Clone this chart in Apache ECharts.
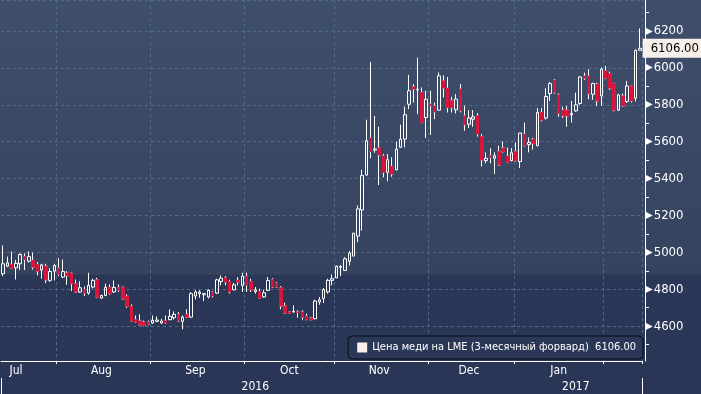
<!DOCTYPE html>
<html><head><meta charset="utf-8">
<script src="https://cdn.jsdelivr.net/npm/echarts@6/dist/echarts.min.js"></script>
<style>
html,body{margin:0;padding:0;background:#2a3656;}
#c{width:701px;height:394px;background:linear-gradient(to bottom,#3f4e6b 0px,#35435f 274px,#2b3757 275px,#2a3656 394px);}
</style></head><body><div id="c"></div>
<script>
// ---- data ----
const SERIES_NAME = 'Цена меди на LME (3-месячный форвард)';
const tradingMonths = [
  [2016, 7, [13,14,15,18,19,20,21,22,25,26,27,28,29]],
  [2016, 8, [1,2,3,4,5,8,9,10,11,12,15,16,17,18,19,22,23,24,25,26,30,31]],
  [2016, 9, [1,2,5,6,7,8,9,12,13,14,15,16,19,20,21,22,23,26,27,28,29,30]],
  [2016,10, [3,4,5,6,7,10,11,12,13,14,17,18,19,20,21,24,25,26,27,28,31]],
  [2016,11, [1,2,3,4,7,8,9,10,11,14,15,16,17,18,21,22,23,24,25,28,29,30]],
  [2016,12, [1,2,5,6,7,8,9,12,13,14,15,16,19,20,21,22,23,28,29,30]],
  [2017, 1, [3,4,5,6,9,10,11,12,13,16,17,18,19,20,23,24,25,26,27,30,31]],
  [2017, 2, [1,2,3,6,7,8,9,10,13]]
];
const opens = [4884,4925,4934,4916,4938,4977,4952,4956,4934,4905,4925,4848,4898,4914,4866,4887,4887,4830,4785,4799,4779,4812,4851,4752,4766,4810,4785,4810,4810,4761,4707,4635,4628,4622,4622,4617,4626,4617,4628,4635,4646,4664,
4626,4664,4649,4763,4776,4770,4758,4785,4779,4842,4862,4842,4797,4848,4821,4871,4842,4788,4788,4758,4794,4853,4833,4808,4709,4677,4677,4677,4677,4655,4644,4640,4731,4749,4785,4848,4862,4919,4902,4952,4980,5088,5230,5419,5620,5555,5566,5522,5434,5466,5447,5569,5614,5803,5897,5881,5867,5731,5803,5794,5771,5930,5890,5822,5773,5885,5740,5695,5722,5740,5627,5497,5524,5510,5546,5565,5522,5497,5546,5492,5641,5585,5611,5578,5758,5728,5861,5933,5854,5771,5771,5746,5767,5807,5956,5956,5857,5911,5848,5983,5969,5915,5771,5848,5818,5902,5836,6095];
const closes = [4938,4943,4914,4941,4988,4961,4977,4920,4898,4932,4851,4896,4929,4880,4896,4873,4830,4785,4808,4779,4821,4848,4757,4766,4810,4776,4810,4794,4748,4707,4628,4622,4608,4604,4610,4631,4633,4628,4617,4653,4664,4628,
4649,4649,4776,4785,4785,4776,4794,4763,4851,4860,4839,4785,4824,4839,4871,4821,4797,4797,4752,4781,4848,4812,4812,4709,4671,4671,4680,4674,4649,4635,4635,4736,4743,4797,4848,4857,4924,4925,4965,4996,5104,5236,5416,5605,5547,5560,5528,5434,5502,5425,5560,5614,5746,5876,5885,5885,5704,5830,5794,5762,5957,5890,5785,5785,5831,5767,5692,5728,5735,5641,5501,5510,5515,5524,5474,5547,5488,5540,5497,5647,5578,5596,5591,5758,5717,5845,5915,5866,5753,5740,5740,5753,5800,5951,5944,5861,5915,5821,5993,5944,5890,5771,5854,5794,5902,5821,6095,6106];
const highs = [5037,4977,5005,4959,4995,4995,5005,4999,4947,4938,4938,4914,4938,4968,4961,4898,4890,4853,4844,4815,4889,4857,4862,4770,4830,4826,4848,4826,4815,4772,4718,4658,4664,4630,4630,4658,4652,4640,4658,4691,4680,4676,
4658,4691,4785,4794,4794,4780,4800,4790,4857,4875,4871,4851,4835,4866,4889,4889,4857,4812,4803,4797,4866,4860,4840,4817,4727,4682,4713,4686,4686,4668,4650,4743,4758,4806,4857,4880,4929,4929,4974,5007,5106,5254,5448,5719,6032,5740,5681,5533,5533,5515,5600,5692,5789,5962,5912,6056,5894,5876,5876,5812,5975,5960,5951,5843,5858,5912,5795,5771,5771,5755,5641,5542,5564,5542,5578,5602,5569,5565,5596,5647,5704,5623,5620,5782,5782,5890,5924,5940,5861,5790,5793,5821,5866,5956,5974,5993,5920,5920,6002,6011,5980,5920,5860,5861,5929,5902,6100,6214];
const lows = [4871,4920,4910,4853,4905,4905,4945,4907,4875,4857,4833,4840,4848,4871,4860,4824,4790,4780,4780,4763,4770,4805,4752,4748,4762,4770,4780,4785,4745,4698,4625,4618,4604,4599,4605,4612,4622,4612,4615,4632,4635,4622,
4583,4645,4645,4745,4754,4736,4750,4755,4775,4821,4821,4776,4794,4821,4785,4785,4785,4776,4752,4754,4790,4808,4808,4691,4668,4668,4673,4646,4632,4632,4632,4638,4716,4725,4776,4821,4860,4871,4900,4929,4978,5055,5118,5417,5510,5540,5365,5407,5385,5410,5445,5569,5569,5776,5812,5749,5700,5620,5637,5722,5769,5840,5758,5758,5753,5759,5659,5674,5681,5627,5465,5483,5483,5425,5470,5540,5484,5494,5492,5457,5575,5542,5557,5575,5710,5720,5821,5860,5735,5728,5681,5704,5762,5800,5935,5830,5827,5794,5794,5940,5880,5764,5766,5790,5810,5812,5818,6095];
const monthNames = ['Jan','Feb','Mar','Apr','May','Jun','Jul','Aug','Sep','Oct','Nov','Dec'];

// ---- build categories / label positions ----
const pad = n => String(n).padStart(2,'0');
const categories = [];
const monthRanges = [];
tradingMonths.forEach(([y,m,days]) => {
  const s = categories.length;
  days.forEach(d => categories.push(y + '-' + pad(m) + '-' + pad(d)));
  monthRanges.push({y, m, s, e: categories.length - 1});
});
const monthStarts = new Set(monthRanges.slice(1).map(r => r.s));
const monthLabels = {};
monthRanges.forEach((r, k) => {
  if (k === monthRanges.length - 1) return; // last (short) month not labelled
  const idx = k === 0 ? r.s + 3 : Math.floor((r.s + r.e) / 2);
  monthLabels[idx] = monthNames[r.m - 1];
});
const years = {};
monthRanges.forEach(r => {
  if (!years[r.y]) years[r.y] = {s: r.s, e: r.e}; else years[r.y].e = r.e;
});
const yearStarts = new Set();
const yearLabels = {};
Object.keys(years).forEach((y, k) => {
  const r = years[y];
  if (k > 0) yearStarts.add(r.s);
  yearLabels[Math.floor((r.s + r.e) / 2)] = y;
});
const lastClose = closes[closes.length - 1];

const ohlc = categories.map((_, i) => [opens[i], closes[i], lows[i], highs[i]]);
const bodies = categories.map((_, i) => [opens[i], closes[i], Math.min(opens[i], closes[i]), Math.max(opens[i], closes[i])]);

const FONT = "'DejaVu Sans Condensed','DejaVu Sans',sans-serif";
const RED = '#d8163c';
const GRID = '#4e6b88';

const chart = echarts.init(document.getElementById('c'), null, {renderer: 'canvas'});
chart.setOption({
  animation: false,
  backgroundColor: 'transparent',
  grid: {left: 1, right: 59, top: -1, bottom: 33, containLabel: false},
  legend: {
    show: true,
    selectedMode: false,
    data: [{name: SERIES_NAME, icon: 'rect', itemStyle: {color: '#fbefe9', borderWidth: 0}}],
    right: 58, bottom: 35,
    backgroundColor: '#2b3757',
    borderColor: '#070b14', borderWidth: 1, borderRadius: 4,
    padding: [6, 7, 6, 9],
    itemWidth: 10, itemHeight: 10, itemGap: 6,
    textStyle: {color: '#ffffff', fontFamily: FONT, fontSize: 11},
    formatter: n => n + '  ' + lastClose.toFixed(2)
  },
  xAxis: [{
    type: 'category', data: categories, boundaryGap: true,
    axisLine: {show: true, lineStyle: {color: '#ffffff', width: 1}},
    axisTick: {show: true, interval: i => monthStarts.has(i), length: 3, lineStyle: {color: '#ffffff'}},
    axisLabel: {interval: i => (i in monthLabels), formatter: (v, i) => monthLabels[i] || '',
      color: '#ffffff', fontFamily: FONT, fontSize: 12, margin: 4},
    splitLine: {show: true, interval: i => monthStarts.has(i), lineStyle: {color: GRID, type: [3, 3], width: 1}}
  }, {
    type: 'category', data: categories, boundaryGap: true, position: 'bottom', offset: 17,
    axisLine: {show: false},
    axisTick: {show: true, interval: i => yearStarts.has(i), length: 17, lineStyle: {color: '#ffffff'}},
    axisLabel: {interval: i => (i in yearLabels), formatter: (v, i) => yearLabels[i] || '',
      color: '#ffffff', fontFamily: FONT, fontSize: 12, margin: 3},
    splitLine: {show: false}
  }],
  yAxis: {
    type: 'value', position: 'right', offset: 3,
    min: 4411, max: 6368, splitNumber: 10, minInterval: 200, maxInterval: 200,
    axisLine: {show: true, lineStyle: {color: '#ffffff', width: 1}},
    axisTick: {show: false},
    minorTick: {show: true, splitNumber: 2, length: 4, lineStyle: {color: '#ffffff'}},
    splitLine: {show: true, lineStyle: {color: GRID, type: [3, 3], width: 1}},
    axisLabel: {
      showMinLabel: false, showMaxLabel: false, margin: 0,
      formatter: v => (v % 200 === 0) ? '{t|▶}{v|' + v + '}' : '',
      rich: {t: {fontSize: 10, color: '#ffffff', fontFamily: 'DejaVu Sans', padding: [0, 1, 0, 0]},
             v: {fontSize: 13, color: '#ffffff', fontFamily: FONT}}
    },
    axisPointer: {
      show: true, value: lastClose, status: 'show', triggerTooltip: false,
      lineStyle: {color: 'rgba(0,0,0,0)', width: 0},
      label: {show: true, formatter: p => Number(p.value).toFixed(2),
        backgroundColor: '#f7efe9', color: '#000000', fontFamily: FONT, fontSize: 13,
        padding: [3, 2, 3, 8], margin: 3, borderRadius: 0, shadowBlur: 0}
    }
  },
  series: [{
    name: SERIES_NAME, type: 'candlestick', data: ohlc, barWidth: 3,
    itemStyle: {color: 'rgba(0,0,0,0)', color0: RED, borderColor: '#ffffff', borderColor0: '#ffffff', borderColorDoji: '#ffffff', borderWidth: 1}
  }, {
    name: 'body', type: 'candlestick', data: bodies, barWidth: 3, silent: true, z: 3,
    itemStyle: {color: 'rgba(0,0,0,0)', color0: RED, borderColor: 'rgba(0,0,0,0)', borderColor0: RED, borderColorDoji: 'rgba(0,0,0,0)', borderWidth: 1}
  }]
});
</script></body></html>
